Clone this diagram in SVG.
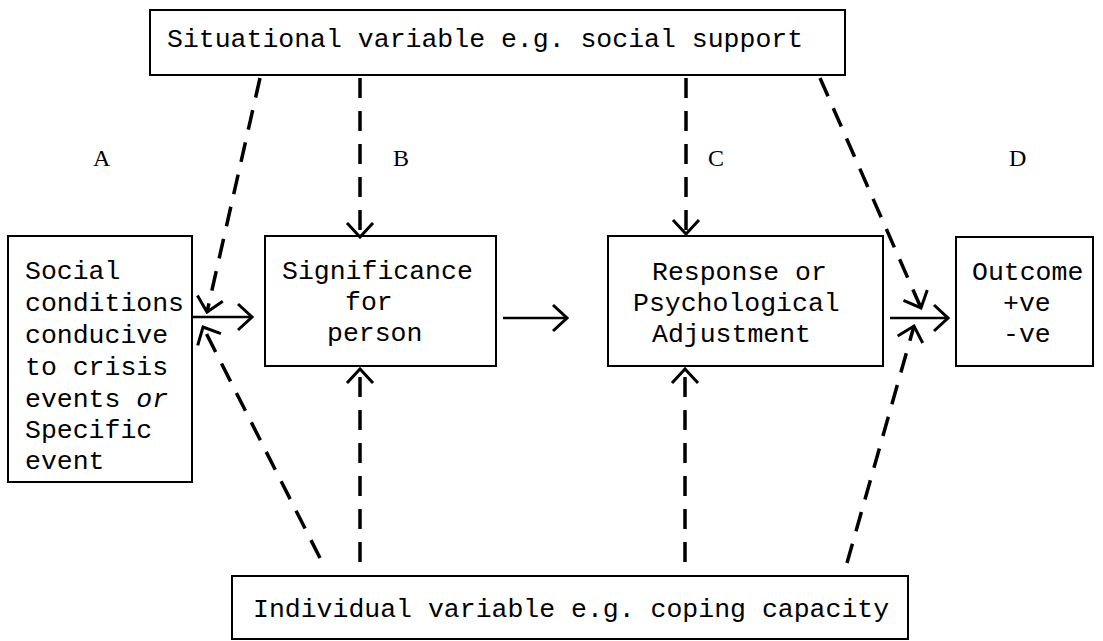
<svg xmlns="http://www.w3.org/2000/svg" width="1103" height="641" viewBox="0 0 1103 641">
<style>
.box{fill:none;stroke:#000;stroke-width:2}
.t{font-family:"Liberation Mono","DejaVu Sans Mono",monospace;font-size:26.5px;fill:#000}
.lbl{font-family:"Liberation Serif","Times New Roman",serif;font-size:24px;fill:#000}
.solid{fill:none;stroke:#000;stroke-width:2.5;marker-end:url(#head)}
.dash{fill:none;stroke:#000;stroke-width:3.5;stroke-dasharray:20 13;marker-end:url(#head)}
</style>
<defs>
<marker id="head" viewBox="0 0 20 30" refX="18" refY="15" markerWidth="20" markerHeight="30" markerUnits="userSpaceOnUse" orient="auto">
<path d="M4,2 L18,15 L4,28" fill="none" stroke="#000" stroke-width="3" stroke-linejoin="miter"/>
</marker>
</defs>
<rect width="1103" height="641" fill="#fff"/>
<g id="situational">
<rect class="box" x="150" y="10" width="695" height="65"/>
<text class="t" x="167" y="47">Situational variable e.g. social support</text>
</g>
<g id="individual">
<rect class="box" x="232" y="576" width="676" height="63"/>
<text class="t" x="253" y="617">Individual variable e.g. coping capacity</text>
</g>
<g id="social">
<rect class="box" x="8" y="236" width="184" height="246"/>
<text class="t" x="25" y="279">Social</text>
<text class="t" x="25" y="311">conditions</text>
<text class="t" x="25" y="343">conducive</text>
<text class="t" x="25" y="375">to crisis</text>
<text class="t" x="25" y="407">events <tspan font-style="italic">or</tspan></text>
<text class="t" x="25" y="438">Specific</text>
<text class="t" x="25" y="469">event</text>
</g>
<g id="significance">
<rect class="box" x="265" y="236" width="231" height="130"/>
<text class="t" x="282" y="279">Significance</text>
<text class="t" x="345" y="310">for</text>
<text class="t" x="327" y="341">person</text>
</g>
<g id="response">
<rect class="box" x="608" y="236" width="275" height="130"/>
<text class="t" x="652" y="280">Response or</text>
<text class="t" x="633" y="311">Psychological</text>
<text class="t" x="652" y="342">Adjustment</text>
</g>
<g id="outcome">
<rect class="box" x="956" y="237" width="137" height="129"/>
<text class="t" x="972" y="280">Outcome</text>
<text class="t" x="1003" y="311">+ve</text>
<text class="t" x="1003" y="342">-ve</text>
</g>
<g id="labels">
<text class="lbl" x="93" y="166">A</text>
<text class="lbl" x="393" y="166">B</text>
<text class="lbl" x="708" y="166">C</text>
<text class="lbl" x="1009" y="166">D</text>
</g>
<g id="connectors">
<path class="solid" d="M193,317 L252,317"/>
<path class="solid" d="M503,318 L567,318"/>
<path class="solid" d="M890,318 L948,318"/>
<path class="dash" d="M260,78 L207,312"/>
<path class="dash" d="M360,78 L360,237"/>
<path class="dash" d="M686,78 L686,234"/>
<path class="dash" d="M820,78 L921,308"/>
<path class="dash" d="M320,558 L203,327"/>
<path class="dash" d="M360,562 L360,369"/>
<path class="dash" d="M685,562 L685,369"/>
<path class="dash" d="M847,563 L914,326"/>
</g>
</svg>
